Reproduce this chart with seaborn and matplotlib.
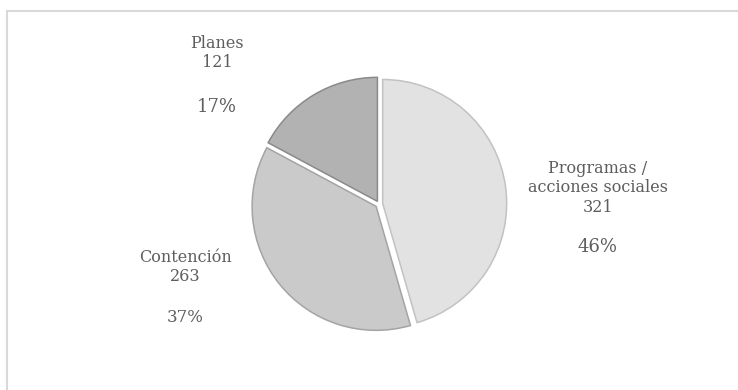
import matplotlib
matplotlib.use("Agg")
import matplotlib.pyplot as plt
from matplotlib.patches import Rectangle
import seaborn as sns

sns.set_theme(style="white")
plt.rcParams["font.family"] = ["DejaVu Serif"]

# Data
categories = ["Programas /\nacciones sociales", "Contención", "Planes"]
values = [321, 263, 121]
percent_labels = ["46%", "37%", "17%"]

fills = ["#e2e2e2", "#cacaca", "#b2b2b2"]
edges = ["#c2c2c2", "#a4a4a4", "#8a8a8a"]
text_color = "#5e5e5e"

W, H = 738, 390
fig = plt.figure(figsize=(W / 100, H / 100), dpi=100)
fig.patch.set_facecolor("white")

# 1 data unit = 124 px, pie centred at (379, 204) px from top-left
px = 124.0
cx, cy = 379, 204
ax = fig.add_axes([0, 0, 1, 1])

wedges, _ = ax.pie(
    values,
    startangle=90,
    counterclock=False,
    colors=fills,
    explode=[0.03, 0.03, 0.025],
    radius=1.0,
    wedgeprops=dict(linewidth=1.1),
    center=(0, 0),
)
for w, ec in zip(wedges, edges):
    w.set_edgecolor(ec)

ax.set_xlim(-cx / px, (W - cx) / px)
ax.set_ylim(-(H - cy) / px, cy / px)
ax.set_aspect("auto")
ax.axis("off")

# Labels: name + value, then percentage below (positions in pixels from top-left)
label_pos = {
    "Programas /\nacciones sociales": (598, 188, 247, 13),
    "Contención": (185, 267, 317, 12),
    "Planes": (217, 53, 107, 13),
}
for name, val, pct in zip(categories, values, percent_labels):
    x, y_name, y_pct, pct_size = label_pos[name]
    ax.text((x - cx) / px, (cy - y_name) / px, f"{name}\n{val}",
            ha="center", va="center", fontsize=11.5, color=text_color,
            linespacing=1.2)
    ax.text((x - cx) / px, (cy - y_pct) / px, pct, ha="center", va="center",
            fontsize=pct_size, color=text_color)

# Light chart-area frame
fig.patches.append(Rectangle((7 / W, -0.1), 1.2, (H - 11) / H + 0.1,
                             transform=fig.transFigure, fill=False,
                             edgecolor="#d9d9d9", linewidth=1.5))

fig.savefig("out.png", dpi=100, facecolor="white")
